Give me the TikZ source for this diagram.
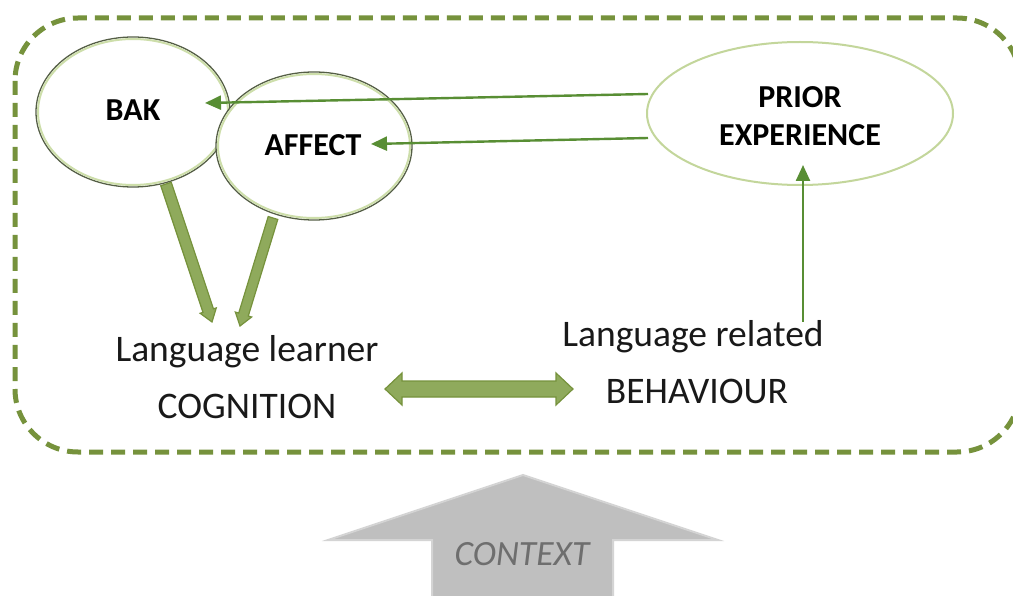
\documentclass[tikz,border=0pt]{standalone}
\usepackage{fontspec}
\setmainfont{Carlito}
\usetikzlibrary{arrows.meta,calc,shapes.geometric}
\definecolor{olive}{RGB}{118,146,60}
\definecolor{oliveFill}{RGB}{143,170,92}
\definecolor{arrowGreen}{RGB}{88,142,52}
\definecolor{lightGreen}{RGB}{195,214,155}
\definecolor{ctxGray}{RGB}{191,191,191}
\definecolor{ctxBorder}{RGB}{212,212,212}
\definecolor{ctxText}{RGB}{110,110,110}
\definecolor{ellEdge}{RGB}{85,95,70}
\definecolor{ellGlow}{RGB}{205,222,170}
\newcommand\fatarrow[6]{%
  \coordinate (fah) at ($(#2)!#5!(#1)$);
  \draw[#6] ($(#1)!#3!90:(#2)$) -- ($(fah)!#3!90:(#2)$) -- ($(fah)!#4!90:(#2)$) -- (#2)
    -- ($(fah)!#4!-90:(#2)$) -- ($(fah)!#3!-90:(#2)$) -- ($(#1)!#3!-90:(#2)$) -- cycle;}
\newcommand\dblfatarrow[6]{%
  \coordinate (dha) at ($(#1)!#5!(#2)$);
  \coordinate (dhb) at ($(#2)!#5!(#1)$);
  \draw[#6] (#1) -- ($(dha)!#4!90:(#2)$) -- ($(dha)!#3!90:(#2)$) -- ($(dhb)!#3!90:(#2)$)
    -- ($(dhb)!#4!90:(#2)$) -- (#2) -- ($(dhb)!#4!-90:(#2)$) -- ($(dhb)!#3!-90:(#2)$)
    -- ($(dha)!#3!-90:(#2)$) -- ($(dha)!#4!-90:(#2)$) -- cycle;}
\begin{document}
\begin{tikzpicture}[x=1pt,y=-1pt,
  frame/.style={draw=olive, line width=5pt, dash pattern=on 14pt off 8pt, rounded corners=63pt},
  bubble/.style={ellipse, draw=ellEdge, line width=1.3pt, fill=white, inner sep=0pt},
  priorbubble/.style={ellipse, draw=lightGreen, line width=2pt, fill=white, inner sep=0pt},
  boldlbl/.style={font=\fontsize{32}{38}\selectfont\bfseries, text=black, align=center},
  lbl/.style={font=\fontsize{37.5}{40}\selectfont, text=black!90, inner sep=0pt},
  thinarrow/.style={draw=arrowGreen, line width=2.4pt, -{Triangle[length=16pt,width=14pt]}},
  fatstyle/.style={fill=oliveFill, draw=olive, line width=1.2pt, line join=miter},
  ctxstyle/.style={fill=ctxGray, draw=ctxBorder, line width=2pt}
]
\useasboundingbox (0,0) rectangle (1013,596);
\clip (0,0) rectangle (1013,596);
\fill[white] (0,0) rectangle (1013,596);

% frame
\draw[frame] (15,18) rectangle (1020,452);

% ellipses
\node[bubble, minimum width=194pt, minimum height=150pt] (bak) at (133,112) {};
\draw[ellGlow, line width=2pt] (133,112) ellipse [x radius=95pt, y radius=73pt];
\node[boldlbl, anchor=base] (baktxt) at (133,121) {BAK};
\node[bubble, minimum width=196pt, minimum height=148pt] (affect) at (314,146) {};
\draw[ellGlow, line width=2pt] (314,146) ellipse [x radius=96pt, y radius=72pt];
\node[boldlbl, anchor=base] (affecttxt) at (313,156) {AFFECT};
\node[priorbubble, minimum width=306pt, minimum height=143pt] (prior) at (800,113.5) {};
\node[boldlbl] (priortxt) at (800,116) {PRIOR\\EXPERIENCE};

% texts
\node[lbl, anchor=base] (learner) at (247,362) {Language learner};
\node[lbl, anchor=base] (cognition) at (247,418) {COGNITION};
\node[lbl, anchor=base] (related) at (693,346) {Language related};
\node[lbl, anchor=base] (behaviour) at (697,403) {BEHAVIOUR};

% coordinates
\coordinate (bakfoot) at (166,184);
\coordinate (baktip) at (212,322);
\coordinate (afffoot) at (273,218);
\coordinate (afftip) at (240,326);
\coordinate (cogend) at (385,389);
\coordinate (behend) at (573,389);
\coordinate (priorA) at (648,94);
\coordinate (bakin) at (205,103);
\coordinate (priorB) at (648,138);
\coordinate (affin) at (371,144);
\coordinate (relstart) at (803,322);
\coordinate (priorin) at (803,165);

% fat arrows
\fatarrow{bakfoot}{baktip}{5.5pt}{8.5pt}{12pt}{fatstyle}
\fatarrow{afffoot}{afftip}{5pt}{8.5pt}{12pt}{fatstyle}
\dblfatarrow{cogend}{behend}{8pt}{16pt}{17pt}{fatstyle}

% thin arrows
\draw[thinarrow] (priorA) -- (bakin);
\draw[thinarrow] (priorB) -- (affin);
\draw[thinarrow] (relstart) -- (priorin);

% context arrow
\draw[ctxstyle] (523,475) -- (718,540) -- (613,540) -- (613,600) -- (432,600) -- (432,540) -- (328,540) -- cycle;
\node[font=\fontsize{35.5}{40}\selectfont\itshape, text=ctxText, anchor=base] (context) at (522,565) {CONTEXT};
\end{tikzpicture}
\end{document}
